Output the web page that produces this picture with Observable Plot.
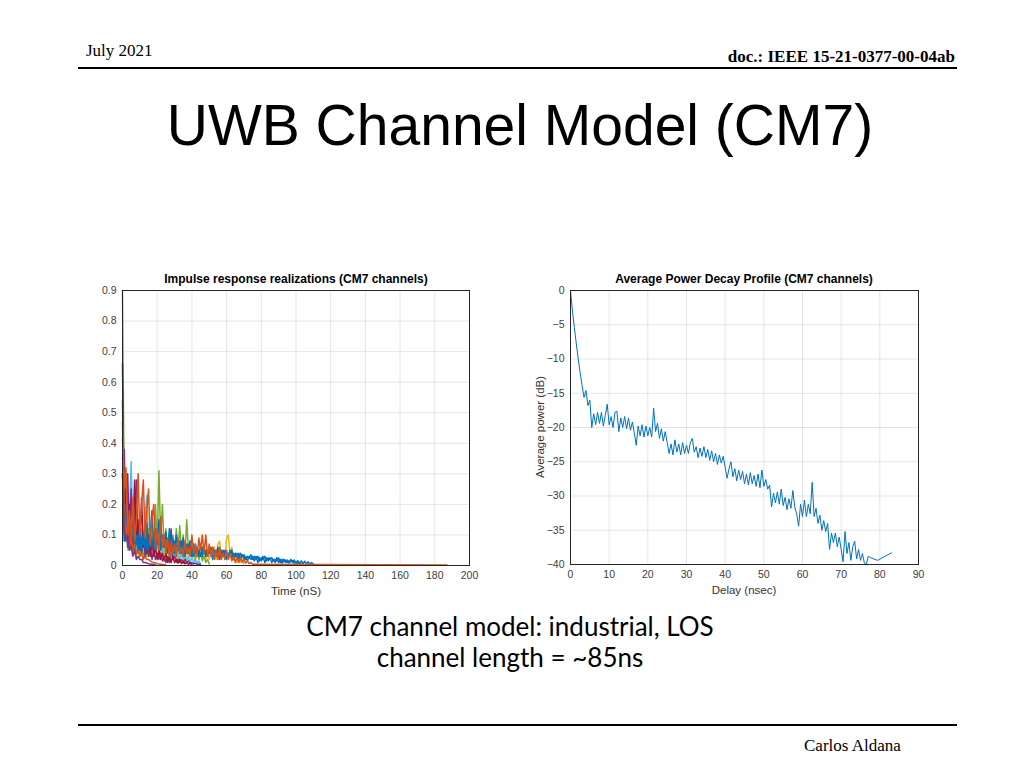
<!DOCTYPE html>
<html><head><meta charset="utf-8">
<script src="https://cdn.jsdelivr.net/npm/d3@7"></script>
<script src="https://cdn.jsdelivr.net/npm/@observablehq/plot@0.6"></script>
<style>
html,body{margin:0;padding:0;background:#fff;}
#slide{position:relative;width:1024px;height:768px;overflow:hidden;background:#fff;}
.abs{position:absolute;white-space:nowrap;}
.c{transform:translate(-50%,-50%);}
.serif{font-family:"Liberation Serif","Times New Roman",serif;color:#000;line-height:1.15;}
.sans{font-family:"Liberation Sans",Arial,Helvetica,sans-serif;}
.hr{position:absolute;background:#000;}
.plot{position:absolute;}
.ctitle{font-family:"Liberation Sans",Arial,sans-serif;font-weight:bold;font-size:12px;color:#000;}
.alabel{font-family:"Liberation Sans",Arial,sans-serif;font-size:11.5px;color:#333;}
</style></head>
<body><div id="slide">
  <div class="abs serif" style="left:86px;top:41px;font-size:17px;">July 2021</div>
  <div class="abs serif" style="right:69px;top:47px;font-size:17px;font-weight:bold;">doc.: IEEE 15-21-0377-00-04ab</div>
  <div class="hr" style="left:78px;top:67px;width:879px;height:2px;"></div>
  <div class="abs sans c" style="left:520px;top:125px;font-size:57px;color:#000;">UWB Channel Model (CM7)</div>

  <div class="abs ctitle c" style="left:296px;top:279px;">Impulse response realizations (CM7 channels)</div>
  <div class="abs ctitle c" style="left:744px;top:279px;">Average Power Decay Profile (CM7 channels)</div>
  <div id="left" class="plot" style="left:82px;top:280px;"></div>
  <div id="right" class="plot" style="left:530px;top:280px;"></div>
  <div class="abs alabel c" style="left:296px;top:591px;">Time (nS)</div>
  <div class="abs alabel c" style="left:744px;top:590px;">Delay (nsec)</div>
  <div class="abs alabel c" style="left:540px;top:427px;transform:translate(-50%,-50%) rotate(-90deg);">Average power (dB)</div>

  <div class="abs c" style="left:510px;top:626px;font-family:Lato,'Open Sans',sans-serif;font-size:26px;color:#000;">CM7 channel model: industrial, LOS</div>
  <div class="abs c" style="left:510px;top:657px;font-family:Lato,'Open Sans',sans-serif;font-size:26px;color:#000;">channel length = ~85ns</div>

  <div class="hr" style="left:78px;top:724px;width:879px;height:2px;"></div>
  <div class="abs serif" style="left:804px;top:736px;font-size:17px;">Carlos Aldana</div>
</div>
<script>
// ---------- Left chart: impulse response realizations (1 ns sampling per series) ----------
const timeTicks = [0,20,40,60,80,100,120,140,160,180,200];
const ampTicks = [0,0.1,0.2,0.3,0.4,0.5,0.6,0.7,0.8,0.9];
const seriesColors = ["#EDB120","#4DBEEE","#77AC30","#7E2F8E","#A2142F","#0072BD","#0072BD","#D95319","#D95319","#7E2F8E","#D95319"];
const yellowAmp = [0.2,0.08,0.15,0.05,0.12,0.14,0.05,0.18,0.06,0.12,0.16,0.05,0.1,0.13,0.04,0.1,0.06,0.12,0.04,0.09,0.05,0.11,0.04,0.08,0.03,0.07,0.04,0.06,0.02,0.05,0.03,0.06,0.02,0.05,0.03,0.07,0.02,0.05,0.03,0.06,0.02,0.04,0.02,0.05,0.02,0.04,0.02,0.05,0.02,0.04,0.02,0.05,0.02,0.06,0.02,0.07,0.08,0.02,0.05,0.02,0.09,0.1,0.03,0.06,0.02,0.04,0.01,0.03,0.01,0.02,0.005];
const lightBlueAmp = [0.15,0.1,0.2,0.06,0.15,0.34,0.08,0.2,0.06,0.14,0.05,0.12,0.06,0.16,0.23,0.06,0.13,0.05,0.11,0.04,0.1,0.04,0.08,0.03,0.09,0.03,0.07,0.03,0.06,0.02,0.05,0.02,0.05,0.02,0.04,0.02,0.04,0.015,0.03,0.01,0.03,0.01,0.02,0.008,0.015,0.005];
const greenAmp = [0.9,0.2,0.08,0.15,0.05,0.1,0.04,0.08,0.03,0.07,0.03,0.06,0.02,0.08,0.03,0.12,0.04,0.1,0.05,0.2,0.06,0.31,0.08,0.2,0.06,0.12,0.04,0.09,0.03,0.1,0.04,0.12,0.05,0.13,0.04,0.1,0.03,0.15,0.05,0.08,0.03,0.06,0.02,0.05,0.02,0.04,0.015,0.03,0.01,0.02,0.005];
const purpleAmp = [0.35,0.38,0.12,0.3,0.08,0.25,0.06,0.15,0.28,0.05,0.12,0.04,0.1,0.03,0.08,0.03,0.06,0.02,0.05,0.02,0.04,0.02,0.04,0.015,0.03,0.01,0.03,0.01,0.12,0.02,0.03,0.01,0.02,0.01,0.02,0.008,0.02,0.008,0.015,0.006,0.01,0.005,0.008,0.004,0.005,0.003];
const darkRedAmp = [0.66,0.15,0.25,0.08,0.2,0.06,0.12,0.28,0.07,0.15,0.05,0.22,0.06,0.12,0.04,0.1,0.03,0.08,0.03,0.06,0.02,0.05,0.02,0.04,0.015,0.04,0.01,0.03,0.01,0.03,0.01,0.02,0.008,0.02,0.006,0.015,0.005,0.01,0.004,0.008,0.003];
const blueAmp = [0.54,0.12,0.2,0.06,0.15,0.08,0.12,0.05,0.1,0.04,0.13,0.05,0.1,0.06,0.14,0.05,0.11,0.18,0.06,0.12,0.07,0.15,0.05,0.1,0.06,0.11,0.04,0.12,0.05,0.09,0.04,0.1,0.05,0.08,0.04,0.09,0.03,0.07,0.04,0.08,0.03,0.07,0.04,0.06,0.03,0.07,0.03,0.06,0.03,0.05,0.04,0.06,0.02,0.05,0.03,0.06,0.02,0.05,0.03,0.05,0.02,0.04,0.03,0.05,0.02,0.04,0.02,0.04,0.02,0.035,0.02,0.03,0.015,0.03,0.02,0.03,0.015,0.03,0.01,0.025,0.015,0.03,0.01,0.025,0.015,0.025,0.01,0.02,0.01,0.025,0.01,0.02,0.008,0.02,0.01,0.018,0.008,0.02,0.01,0.018,0.008,0.016,0.006,0.015,0.006,0.014,0.005,0.012,0.004,0.01,0.003];
const blue2Amp = [0.3,0.08,0.12,0.1,0.05,0.09,0.12,0.06,0.08,0.1,0.05,0.09,0.07,0.12,0.05,0.08,0.1,0.06,0.09,0.05,0.1,0.07,0.12,0.06,0.09,0.05,0.08,0.06,0.1,0.04,0.08,0.06,0.07,0.04,0.08,0.05,0.06,0.04,0.07,0.05,0.06,0.03,0.07,0.04,0.05,0.03,0.06,0.04,0.05,0.03,0.05,0.04,0.06,0.03,0.05,0.04,0.05,0.03,0.05,0.03,0.04,0.03,0.05,0.02,0.04,0.03,0.04,0.02,0.04,0.03,0.035,0.02,0.03,0.025,0.035,0.02,0.03,0.02,0.03,0.015,0.025,0.02,0.03,0.015,0.025,0.02,0.025,0.015,0.02,0.015,0.025,0.01,0.02,0.012,0.018,0.01,0.015,0.012,0.016,0.008,0.012,0.006,0.008,0.004];
const orangeAmp = [0.47,0.25,0.32,0.1,0.18,0.07,0.22,0.08,0.15,0.3,0.1,0.2,0.28,0.09,0.18,0.25,0.07,0.15,0.2,0.06,0.12,0.05,0.16,0.06,0.1,0.04,0.09,0.03,0.08,0.04,0.07,0.03,0.09,0.04,0.06,0.03,0.08,0.04,0.06,0.03,0.1,0.04,0.07,0.03,0.09,0.05,0.1,0.04,0.1,0.03,0.07,0.03,0.06,0.02,0.05,0.02,0.06,0.02,0.04,0.02,0.05,0.02,0.04,0.015,0.03,0.01,0.03,0.01,0.025,0.01,0.02,0.008,0.015,0.006,0.01,0.004];
const fastOrangeAmp = [0.42,0.18,0.1,0.14,0.06,0.09,0.05,0.07,0.04,0.05,0.03,0.04,0.02,0.03,0.02,0.02,0.015,0.012,0.01,0.008,0.006,0.005,0.004,0.003,0.003,0.002];
const fastPurpleAmp = [0.3,0.12,0.08,0.1,0.05,0.06,0.03,0.05,0.02,0.03,0.02,0.02,0.01,0.01,0.008,0.006,0.005,0.004,0.003,0.002];
const tailTime = [75,187];
const tailAmp = [0.004,0.002];

const seriesList = [yellowAmp, lightBlueAmp, greenAmp, purpleAmp, darkRedAmp, blue2Amp, blueAmp, orangeAmp, fastOrangeAmp, fastPurpleAmp];
const impulseRows = [];
seriesList.forEach((arr, s) => arr.forEach((v, i) => impulseRows.push({s, t: i, v})));
tailTime.forEach((t, i) => impulseRows.push({s: 10, t, v: tailAmp[i]}));

const axisFont = {fontSize: "10.5px", fontFamily: "Liberation Sans, Arial, sans-serif"};

const leftPlot = Plot.plot({
  width: 397, height: 315,
  marginLeft: 40, marginRight: 10, marginTop: 10, marginBottom: 30,
  style: {...axisFont, color: "#404040", background: "transparent", overflow: "visible"},
  x: {domain: [0, 200], ticks: timeTicks, tickSize: 0, tickPadding: 6, label: null},
  y: {domain: [0, 0.9], ticks: ampTicks, tickSize: 0, tickPadding: 6, label: null,
      tickFormat: d => d === 0 ? "0" : d.toFixed(1)},
  color: {domain: d3.range(seriesColors.length), range: seriesColors},
  marks: [
    Plot.gridX(timeTicks, {stroke: "#000", strokeOpacity: 0.1}),
    Plot.gridY(ampTicks, {stroke: "#000", strokeOpacity: 0.1}),
    Plot.line(impulseRows, {x: "t", y: "v", z: "s", stroke: "s", strokeWidth: 1.5}),
    Plot.frame({stroke: "#262626", strokeWidth: 1})
  ]
});
document.getElementById("left").appendChild(leftPlot);

// ---------- Right chart: average power decay profile (0.5 ns sampling) ----------
const delayTicks = [0,10,20,30,40,50,60,70,80,90];
const powerTicks = [0,-5,-10,-15,-20,-25,-30,-35,-40];
const DELAY_STEP_NS = 0.5;
const avgPowerDb = [
  0,-3.0,-5.4,-7.8,-10.0,-12.0,
  -13.9,-15.6,-14.6,-16.8,-16.0,-20.0,
  -18.0,-19.6,-17.8,-19.4,-17.8,-19.8,
  -18.2,-16.6,-19.6,-18.4,-20.0,-17.8,
  -17.6,-20.6,-18.6,-20.0,-18.4,-20.2,
  -18.6,-20.4,-19.2,-20.8,-22.6,-19.8,
  -21.2,-19.6,-21.4,-19.8,-21.2,-20.0,
  -21.4,-17.2,-20.6,-19.4,-21.6,-20.2,
  -22.0,-20.6,-22.2,-23.8,-22.4,-24.0,
  -21.8,-23.6,-22.4,-24.0,-22.2,-23.8,
  -22.6,-23.8,-22.2,-21.6,-23.6,-22.8,
  -24.4,-23.0,-24.2,-22.8,-24.4,-23.2,
  -24.8,-23.4,-25.0,-23.8,-25.4,-24.0,
  -25.2,-24.2,-25.8,-27.4,-26.0,-25.0,
  -27.2,-26.0,-27.8,-26.2,-27.6,-26.4,
  -28.2,-26.8,-28.4,-26.6,-28.2,-27.0,
  -28.6,-26.8,-28.8,-26.2,-28.6,-27.6,
  -29.0,-28.4,-31.6,-29.6,-31.0,-29.4,
  -31.2,-29.0,-31.4,-30.2,-32.0,-30.4,
  -31.8,-29.2,-31.6,-32.6,-34.4,-31.2,
  -33.0,-30.6,-33.0,-31.2,-32.6,-28.0,
  -33.0,-31.8,-34.0,-32.8,-35.0,-33.6,
  -35.2,-34.0,-37.8,-35.4,-36.8,-35.4,
  -37.4,-36.0,-37.8,-39.6,-35.2,-38.4,
  -36.8,-39.4,-37.4,-36.6,-39.2,-37.8,
  -39.4,-38.4,-39.8,-40.0];
const tailDelay = [77.0,77.6,79.4,81.0,83.0];
const tailPowerDb = [-38.8,-39.0,-39.4,-38.9,-38.3];

const powerRows = avgPowerDb.map((p, i) => ({d: i * DELAY_STEP_NS, p}))
  .concat(tailDelay.map((d, i) => ({d, p: tailPowerDb[i]})));

const rightPlot = Plot.plot({
  width: 398, height: 314,
  marginLeft: 40, marginRight: 10, marginTop: 10, marginBottom: 30,
  style: {...axisFont, color: "#404040", background: "transparent", overflow: "visible"},
  x: {domain: [0, 90], ticks: delayTicks, tickSize: 0, tickPadding: 6, label: null},
  y: {domain: [-40, 0], ticks: powerTicks, tickSize: 0, tickPadding: 6, label: null},
  marks: [
    Plot.gridX(delayTicks, {stroke: "#000", strokeOpacity: 0.1}),
    Plot.gridY(powerTicks, {stroke: "#000", strokeOpacity: 0.1}),
    Plot.line(powerRows, {x: "d", y: "p", stroke: "#0072BD", strokeWidth: 1}),
    Plot.frame({stroke: "#262626", strokeWidth: 1})
  ]
});
document.getElementById("right").appendChild(rightPlot);
</script>
</body></html>
